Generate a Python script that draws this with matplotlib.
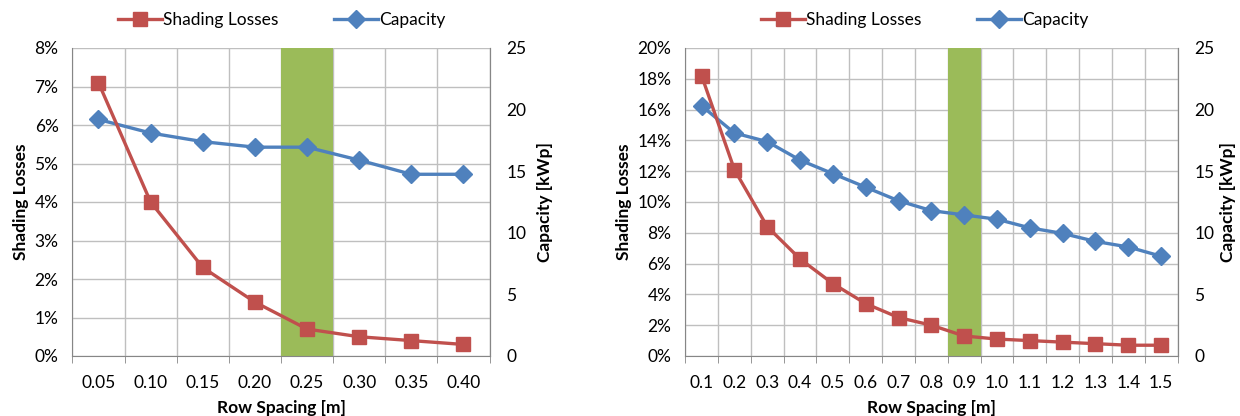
import matplotlib
matplotlib.use("Agg")
import matplotlib.pyplot as plt
from matplotlib.lines import Line2D
from matplotlib.ticker import FixedLocator, PercentFormatter

plt.rcParams['font.family'] = ['Lato', 'DejaVu Sans']

# ---- data ----
left_spacing = ["0.05", "0.10", "0.15", "0.20", "0.25", "0.30", "0.35", "0.40"]
left_losses = [7.1, 4.0, 2.3, 1.4, 0.7, 0.5, 0.4, 0.3]          # %
left_capacity = [19.2, 18.1, 17.4, 16.95, 16.95, 15.9, 14.75, 14.75]  # kWp
left_highlight = "0.25"
left_loss_max = 8

right_spacing = ["0.1", "0.2", "0.3", "0.4", "0.5", "0.6", "0.7", "0.8",
                 "0.9", "1.0", "1.1", "1.2", "1.3", "1.4", "1.5"]
right_losses = [18.2, 12.1, 8.4, 6.3, 4.7, 3.4, 2.5, 2.0, 1.3, 1.1, 1.0, 0.9, 0.8, 0.7, 0.7]
right_capacity = [20.3, 18.1, 17.4, 15.9, 14.8, 13.7, 12.6, 11.8, 11.45, 11.1, 10.4, 9.95, 9.3, 8.85, 8.1]
right_highlight = "0.9"
right_loss_max = 20

cap_max = 25

RED = "#C0504D"
BLUE = "#4F81BD"
GREEN = "#9BBB59"
GRID = "#BFBFBF"
AXC = "#868686"
FS = 12.5

W, H = 1240, 416
fig = plt.figure(figsize=(W / 100, H / 100), dpi=100)


def panel(rect, cats, losses, caps, highlight, loss_max, loss_step, leg_x, ylpad, y2pad):
    ax = fig.add_axes(rect)
    n = len(cats)
    xs = list(range(n))
    ax.set_xlim(-0.5, n - 0.5)
    ax.set_ylim(0, loss_max)
    hi = cats.index(highlight)
    ax.bar([hi], [loss_max], width=1.0, color=GREEN, zorder=1)
    ax.set_yticks(range(0, loss_max + 1, loss_step))
    ax.yaxis.set_major_formatter(PercentFormatter(decimals=0))
    ax.set_xticks(xs)
    ax.set_xticklabels(cats)
    ax.xaxis.set_minor_locator(FixedLocator([i - 0.5 for i in range(n + 1)]))
    ax.tick_params(axis='x', which='major', length=0, pad=14, labelsize=FS)
    ax.tick_params(axis='x', which='minor', length=5, color=AXC, direction='out')
    ax.tick_params(axis='y', length=0, pad=10, labelsize=FS)
    ax.grid(True, axis='y', which='major', color=GRID, lw=1, zorder=0)
    ax.grid(True, axis='x', which='minor', color=GRID, lw=1, zorder=0)
    ax.grid(False, axis='x', which='major')
    ax.set_axisbelow(True)
    ax.spines['top'].set_visible(False)
    for s in ['left', 'bottom', 'right']:
        ax.spines[s].set_color(AXC)
    ax.set_xlabel("Row Spacing [m]", fontsize=FS, fontweight='bold', labelpad=6)
    ax.set_ylabel("Shading Losses", fontsize=FS, fontweight='bold', labelpad=ylpad)

    # capacity on secondary axis
    ax2 = ax.twinx()
    ax2.set_ylim(0, cap_max)
    ax2.set_yticks(range(0, cap_max + 1, 5))
    ax2.tick_params(axis='y', length=0, pad=12, labelsize=FS)
    for s in ['top', 'left', 'bottom']:
        ax2.spines[s].set_visible(False)
    ax2.spines['right'].set_color(AXC)
    ax2.set_ylabel("Capacity [kWp]", fontsize=FS, fontweight='bold', labelpad=y2pad)
    ax2.patch.set_visible(False)
    ax2.plot(xs, caps, color=BLUE, lw=2.4, marker='D', ms=9, zorder=3, clip_on=False)

    # losses on top layer, same scale as primary axis
    ax3 = ax.twinx()
    ax3.set_ylim(0, loss_max)
    ax3.set_yticks([])
    for s in ax3.spines.values():
        s.set_visible(False)
    ax3.patch.set_visible(False)
    ax3.plot(xs, losses, color=RED, lw=2.4, marker='s', ms=9.5, zorder=4, clip_on=False)

    ax.set_zorder(1)
    ax2.set_zorder(2)
    ax3.set_zorder(3)

    handles = [Line2D([], [], color=RED, lw=2.4, marker='s', ms=9.5),
               Line2D([], [], color=BLUE, lw=2.4, marker='D', ms=9)]
    fig.legend(handles, ["Shading Losses", "Capacity"], loc='center',
               bbox_to_anchor=(leg_x / W, 1 - 20 / H), ncol=2, frameon=False,
               fontsize=FS, handlelength=2.5, handletextpad=0.1, columnspacing=3.2)
    return ax, ax2


panel([72.4 / W, 60 / H, (489.5 - 72.4) / W, 308 / H], left_spacing, left_losses, left_capacity,
      left_highlight, left_loss_max, 1, 282, 4, 8)
panel([685.2 / W, 60 / H, (1177.5 - 685.2) / W, 308 / H], right_spacing, right_losses, right_capacity,
      right_highlight, right_loss_max, 2, 925, 4, 4)

fig.savefig("out.png", dpi=100)
